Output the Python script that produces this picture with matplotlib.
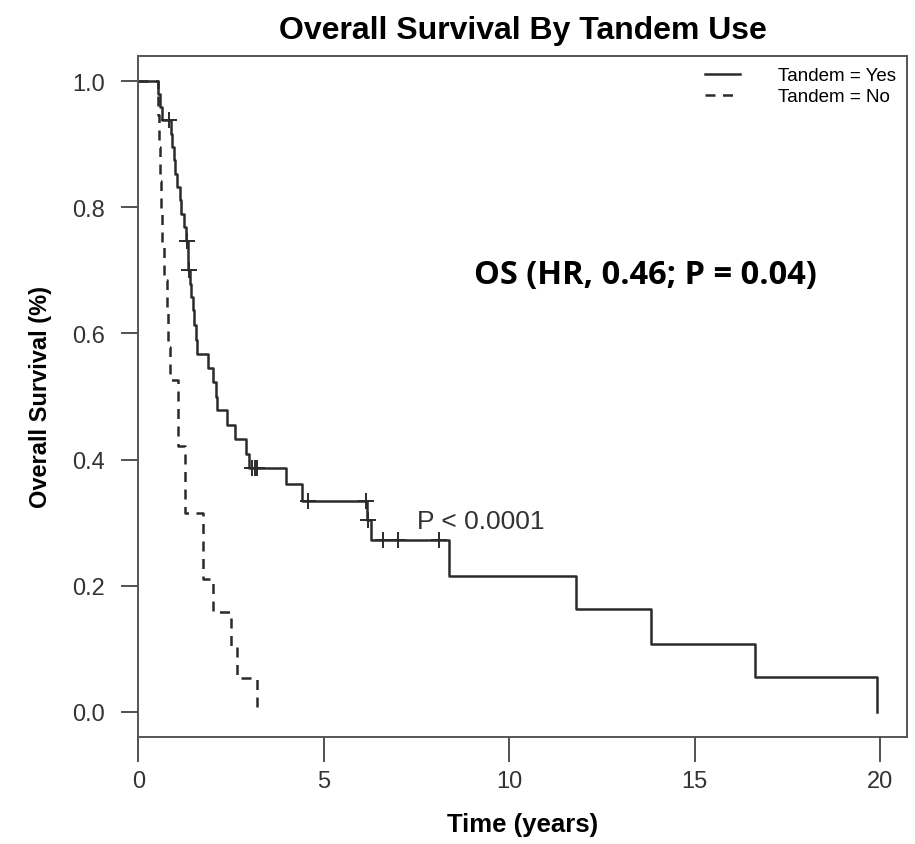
import matplotlib
matplotlib.use("Agg")
import matplotlib.pyplot as plt

plt.rcParams['font.family'] = ['Liberation Sans', 'DejaVu Sans']

# Kaplan-Meier steps (time in years, survival after each drop)
yes_times = [0.52, 0.58, 0.65, 0.88, 0.92, 0.95, 0.98, 1.05, 1.12, 1.15, 1.22, 1.29,
             1.33, 1.35, 1.40, 1.43, 1.46, 1.50, 1.55, 1.58, 1.88, 2.00, 2.08, 2.13,
             2.40, 2.60, 2.90, 2.97, 3.99, 4.42, 6.17, 6.27, 8.37, 11.80, 13.81,
             16.63, 19.90]
yes_surv = [0.979, 0.959, 0.938, 0.917, 0.896, 0.875, 0.853, 0.832, 0.811, 0.790,
            0.769, 0.746, 0.723, 0.701, 0.679, 0.658, 0.637, 0.613, 0.589, 0.568,
            0.545, 0.523, 0.500, 0.478, 0.455, 0.432, 0.409, 0.386, 0.362, 0.335,
            0.304, 0.272, 0.216, 0.163, 0.108, 0.055, 0.0]
yes_cens_t = [0.82, 1.31, 1.36, 3.05, 3.14, 3.20, 4.57, 6.14, 6.20, 6.59, 7.01, 8.11]
yes_cens_s = [0.938, 0.746, 0.701, 0.386, 0.386, 0.386, 0.335, 0.335, 0.304,
              0.272, 0.272, 0.272]

no_times = [0.52, 0.55, 0.57, 0.60, 0.64, 0.70, 0.76, 0.81, 0.86, 1.08, 1.26,
            1.74, 2.00, 2.51, 2.65, 3.20]
no_surv = [0.947, 0.895, 0.842, 0.789, 0.737, 0.684, 0.632, 0.579, 0.526, 0.421,
           0.316, 0.211, 0.158, 0.105, 0.053, 0.0]


def km_xy(times, surv):
    x, y = [0.0], [1.0]
    for t, s in zip(times, surv):
        x += [t, t]
        y += [y[-1], s]
    return x, y


fig = plt.figure(figsize=(9.15, 8.45), dpi=100)
ax = fig.add_axes([138 / 915, 1 - 738 / 845, 769 / 915, 681 / 845])

x, y = km_xy(yes_times, yes_surv)
ax.plot(x, y, color='#2b2b2b', lw=1.8, label='Tandem = Yes')
ax.plot(yes_cens_t, yes_cens_s, ls='none', marker='+', ms=12, mew=1.4,
        color='#2b2b2b')
x, y = km_xy(no_times, no_surv)
ax.plot(x, y, color='#2b2b2b', lw=1.8, ls=(0, (4, 3)), label='Tandem = No')

ax.set_xlim(-0.01, 20.72)
ax.set_ylim(-0.04, 1.04)
ax.set_xticks([0, 5, 10, 15, 20])
ax.set_yticks([0.0, 0.2, 0.4, 0.6, 0.8, 1.0])
ax.set_yticklabels(['0.0', '0.2', '0.4', '0.6', '0.8', '1.0'])
ax.tick_params(axis='x', length=18, width=1.2, labelsize=17, pad=6, colors='#333333')
ax.tick_params(axis='y', length=12, width=1.2, labelsize=17, pad=12, colors='#333333')
for sp in ax.spines.values():
    sp.set_color('#555555')
    sp.set_linewidth(1.4)

ax.set_xlabel('Time (years)', fontsize=18.5, fontweight='bold', labelpad=14)
ax.set_ylabel('Overall Survival (%)', fontsize=17, fontweight='bold', labelpad=14)
ax.set_title('Overall Survival By Tandem Use', fontsize=23, fontweight='bold', pad=13)

ax.legend(loc='upper right', frameon=False, fontsize=13.5, handlelength=1.9,
          borderaxespad=0.2, labelspacing=0.2, handletextpad=2.0)
ax.text(7.52, 0.283, 'P < 0.0001', fontsize=19, color='#333333', va='bottom')
ax.text(13.67, 0.694, 'OS (HR, 0.46; P = 0.04)', fontsize=23.5, fontweight='bold',
        family=['Open Sans', 'DejaVu Sans'], ha='center', va='center')

fig.savefig('out.png', dpi=100)
